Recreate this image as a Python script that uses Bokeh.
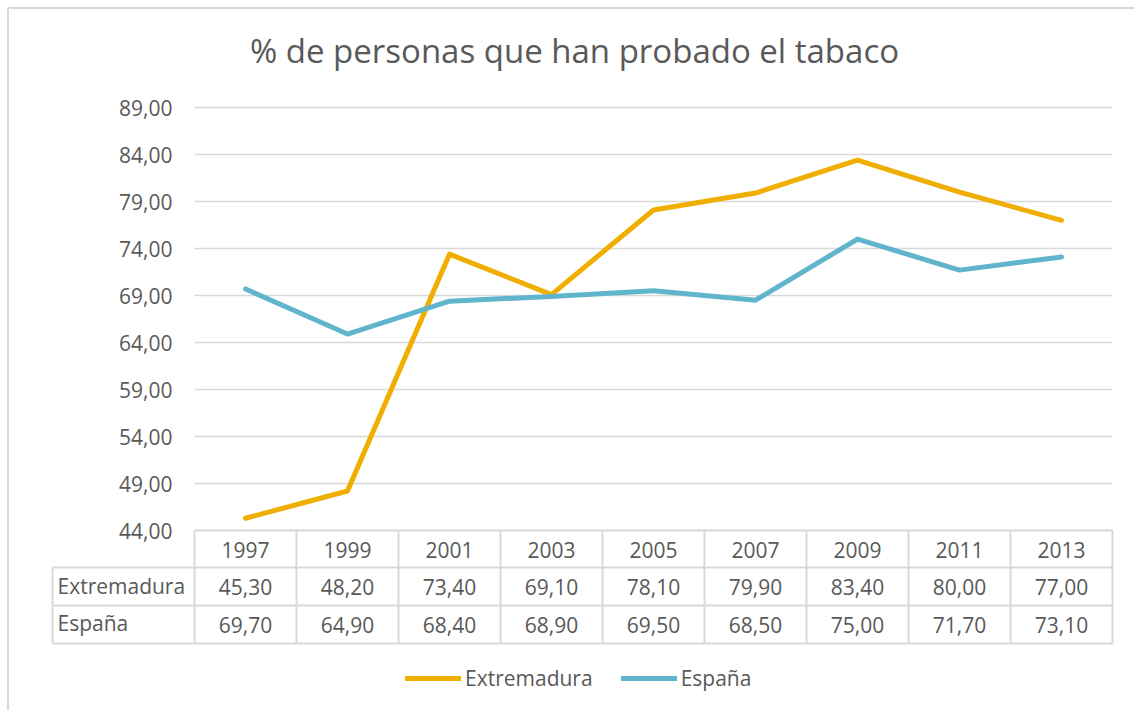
from bokeh.plotting import figure
from bokeh.models import Range1d, Legend, LegendItem
from bokeh.core.properties import value
from bokeh.embed import file_html
from bokeh.resources import INLINE

# ---------------- data ----------------
years = ["1997", "1999", "2001", "2003", "2005", "2007", "2009", "2011", "2013"]
extremadura = [45.30, 48.20, 73.40, 69.10, 78.10, 79.90, 83.40, 80.00, 77.00]
espana = [69.70, 64.90, 68.40, 68.90, 69.50, 68.50, 75.00, 71.70, 73.10]
series_names = ["Extremadura", "España"]
y_ticks = [44, 49, 54, 59, 64, 69, 74, 79, 84, 89]
y_tick_labels = ["44,00", "49,00", "54,00", "59,00", "64,00", "69,00", "74,00", "79,00", "84,00", "89,00"]
title_text = "% de personas que han probado el tabaco"

# ---------------- layout (page pixels) ----------------
W, H = 1134, 710
X0_PX, COL_W = 194, 102          # first table column left edge, column width
Y_LO_PX, Y_HI_PX = 530, 107      # pixel rows of y = 44 and y = 89
Y_LO, Y_HI = y_ticks[0], y_ticks[-1]
PX_PER_UNIT = (Y_LO_PX - Y_HI_PX) / (Y_HI - Y_LO)
LABEL_X = 52
ROWS_PX = [530, 567, 605, 643]

TXT = "#595959"
LINE_C = "#d9d9d9"
C_EXT = "#F0AE00"
C_ESP = "#60B5CD"
FONT = value("Open Sans")

n = len(years)
xr = Range1d((0 - X0_PX) / COL_W, (W - X0_PX) / COL_W)
yr = Range1d(Y_LO + (Y_LO_PX - H) / PX_PER_UNIT, Y_LO + (Y_LO_PX - 0) / PX_PER_UNIT)

p = figure(width=W, height=H, x_range=xr, y_range=yr,
           x_axis_type=None, y_axis_type=None,
           toolbar_location=None, output_backend="svg", min_border=0,
           outline_line_color=None, background_fill_color="white", border_fill_color="white")
p.extra_x_ranges = {"px": Range1d(0, W)}
p.extra_y_ranges = {"px": Range1d(H, 0)}

# outer chart border (left + top visible)
p.line(x=[7.5, 7.5, W], y=[H, 7.5, 7.5],
       x_range_name="px", y_range_name="px", line_color=LINE_C, line_width=2)

# gridlines (from the first to the last category slot)
p.segment(x0=[0] * len(y_ticks), x1=[n] * len(y_ticks), y0=y_ticks, y1=y_ticks,
          line_color=LINE_C, line_width=1.6)

# y tick labels
p.text(x=[172] * len(y_ticks), y=y_ticks, text=y_tick_labels, x_range_name="px",
       text_align="right", text_baseline="middle", text_font=FONT,
       text_font_size="21px", text_color=TXT)

# title
p.text(x=[574], y=[50], text=[title_text], x_range_name="px", y_range_name="px",
       text_align="center", text_baseline="middle", text_font=FONT,
       text_font_size="33px", text_color=TXT)

# series lines
xs = [i + 0.5 for i in range(n)]
r_ext = p.line(x=xs, y=extremadura, line_color=C_EXT, line_width=5, line_join="round", line_cap="round")
r_esp = p.line(x=xs, y=espana, line_color=C_ESP, line_width=5, line_join="round", line_cap="round")

# ---------------- data table ----------------
right_px = X0_PX + n * COL_W
hx0, hx1, hy0, hy1 = [], [], [], []
for k, ry in enumerate(ROWS_PX):
    hx0.append(X0_PX if k == 0 else LABEL_X)
    hx1.append(right_px)
    hy0.append(ry)
    hy1.append(ry)
for k in range(n + 1):
    hx0.append(X0_PX + k * COL_W); hx1.append(X0_PX + k * COL_W)
    hy0.append(ROWS_PX[0]); hy1.append(ROWS_PX[-1])
hx0.append(LABEL_X); hx1.append(LABEL_X); hy0.append(ROWS_PX[1]); hy1.append(ROWS_PX[-1])
p.segment(x0=hx0, y0=hy0, x1=hx1, y1=hy1, x_range_name="px", y_range_name="px",
          line_color=LINE_C, line_width=2)


def fmt(v):
    return f"{v:.2f}".replace(".", ",")


col_cx = [X0_PX + (i + 0.5) * COL_W for i in range(n)]
row_cy = [(ROWS_PX[k] + ROWS_PX[k + 1]) / 2 for k in range(3)]
tx, ty, tt = [], [], []
for i in range(n):
    tx.append(col_cx[i]); ty.append(row_cy[0] + 1); tt.append(years[i])
    tx.append(col_cx[i]); ty.append(row_cy[1]); tt.append(fmt(extremadura[i]))
    tx.append(col_cx[i]); ty.append(row_cy[2]); tt.append(fmt(espana[i]))
p.text(x=tx, y=ty, text=tt, x_range_name="px", y_range_name="px",
       text_align="center", text_baseline="middle", text_font=FONT,
       text_font_size="21px", text_color=TXT)
p.text(x=[57, 57], y=[row_cy[1] - 1, row_cy[2] - 2], text=series_names,
       x_range_name="px", y_range_name="px", text_align="left", text_baseline="middle",
       text_font=FONT, text_font_size="21px", text_color=TXT)

# ---------------- legend ----------------
legend = Legend(items=[LegendItem(label=series_names[0], renderers=[r_ext]),
                       LegendItem(label=series_names[1], renderers=[r_esp])],
                orientation="horizontal", location=(405, 18),
                label_text_font="Open Sans", label_text_font_size="21px", label_text_color=TXT,
                glyph_width=56, glyph_height=20, label_standoff=4, spacing=28,
                padding=0, margin=0, border_line_color=None, background_fill_alpha=0)
p.add_layout(legend)

open("out.html", "w").write(file_html(p, INLINE))
